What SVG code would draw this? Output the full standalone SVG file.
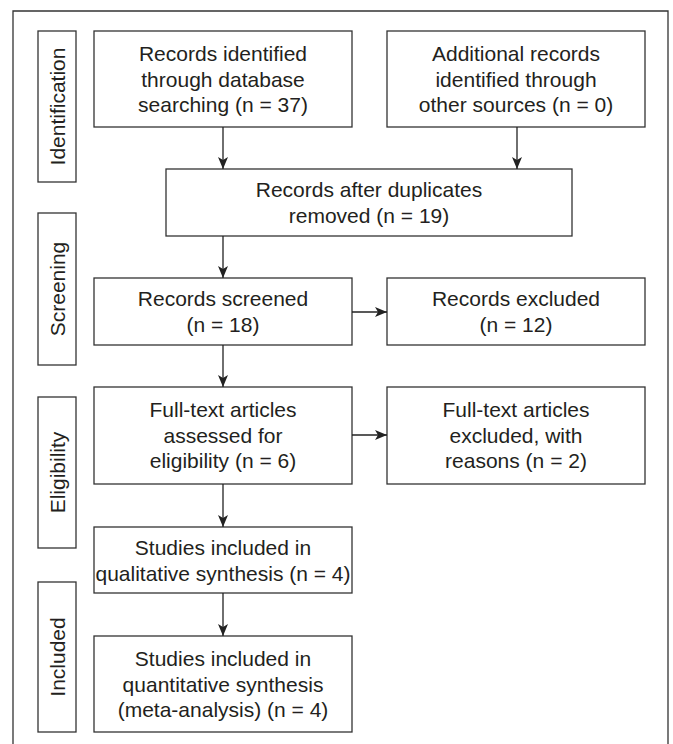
<svg xmlns="http://www.w3.org/2000/svg" width="673" height="744" viewBox="0 0 673 744">
<style>
.box{fill:#fff;stroke:#333;stroke-width:1.3}
.t{font-family:"Liberation Sans",Arial,sans-serif;font-size:21px;fill:#231f20;text-anchor:middle}
.c{stroke:#222;stroke-width:1.3;fill:none}
</style>
<defs>
<marker id="ah" viewBox="0 0 12 10" refX="12" refY="5" markerWidth="12" markerHeight="10" markerUnits="userSpaceOnUse" orient="auto">
<path d="M0,0 L12,5 L0,10 L3,5 Z" fill="#222"/>
</marker>
</defs>
<rect width="673" height="744" fill="#fff"/>
<path d="M13,748 V11 H668 V748" fill="none" stroke="#333" stroke-width="1.3"/>
<g id="lbl-identification"><rect class="box" x="38" y="31" width="38" height="151"/><text class="t" transform="translate(64.5,106.5) rotate(-90)">Identification</text></g>
<g id="lbl-screening"><rect class="box" x="38" y="213" width="38" height="152"/><text class="t" transform="translate(64.5,289) rotate(-90)">Screening</text></g>
<g id="lbl-eligibility"><rect class="box" x="38" y="397" width="38" height="151"/><text class="t" transform="translate(64.5,472.5) rotate(-90)">Eligibility</text></g>
<g id="lbl-included"><rect class="box" x="38" y="582" width="38" height="150"/><text class="t" transform="translate(64.5,657) rotate(-90)">Included</text></g>
<g id="n-db"><rect class="box" x="94" y="31" width="258" height="96"/><text class="t" x="223" y="61">Records identified</text><text class="t" x="223" y="86.5">through database</text><text class="t" x="223" y="112">searching (n = 37)</text></g>
<g id="n-other"><rect class="box" x="387" y="31" width="258" height="96"/><text class="t" x="516" y="61">Additional records</text><text class="t" x="516" y="86.5">identified through</text><text class="t" x="516" y="112">other sources (n = 0)</text></g>
<g id="n-dup"><rect class="box" x="166" y="169" width="406" height="67"/><text class="t" x="369" y="197">Records after duplicates</text><text class="t" x="369" y="222.5">removed (n = 19)</text></g>
<g id="n-screened"><rect class="box" x="94" y="278" width="258" height="67"/><text class="t" x="223" y="306">Records screened</text><text class="t" x="223" y="331.5">(n = 18)</text></g>
<g id="n-excl"><rect class="box" x="387" y="278" width="258" height="67"/><text class="t" x="516" y="306">Records excluded</text><text class="t" x="516" y="331.5">(n = 12)</text></g>
<g id="n-full"><rect class="box" x="94" y="387" width="258" height="97"/><text class="t" x="223" y="417">Full-text articles</text><text class="t" x="223" y="442.5">assessed for</text><text class="t" x="223" y="468">eligibility (n = 6)</text></g>
<g id="n-fullexcl"><rect class="box" x="387" y="387" width="258" height="97"/><text class="t" x="516" y="417">Full-text articles</text><text class="t" x="516" y="442.5">excluded, with</text><text class="t" x="516" y="468">reasons (n = 2)</text></g>
<g id="n-qual"><rect class="box" x="94" y="527" width="258" height="66"/><text class="t" x="223" y="555">Studies included in</text><text class="t" x="223" y="580.5">qualitative synthesis (n = 4)</text></g>
<g id="n-quant"><rect class="box" x="94" y="636" width="258" height="96"/><text class="t" x="223" y="666">Studies included in</text><text class="t" x="223" y="691.5">quantitative synthesis</text><text class="t" x="223" y="717">(meta-analysis) (n = 4)</text></g>
<g id="connectors">
<line class="c" x1="223" y1="127" x2="223" y2="169" marker-end="url(#ah)"/>
<line class="c" x1="517" y1="127" x2="517" y2="169" marker-end="url(#ah)"/>
<line class="c" x1="223" y1="236" x2="223" y2="278" marker-end="url(#ah)"/>
<line class="c" x1="223" y1="345" x2="223" y2="387" marker-end="url(#ah)"/>
<line class="c" x1="352" y1="312" x2="387" y2="312" marker-end="url(#ah)"/>
<line class="c" x1="352" y1="435" x2="387" y2="435" marker-end="url(#ah)"/>
<line class="c" x1="223" y1="484" x2="223" y2="527" marker-end="url(#ah)"/>
<line class="c" x1="223" y1="593" x2="223" y2="636" marker-end="url(#ah)"/>
</g>
</svg>
